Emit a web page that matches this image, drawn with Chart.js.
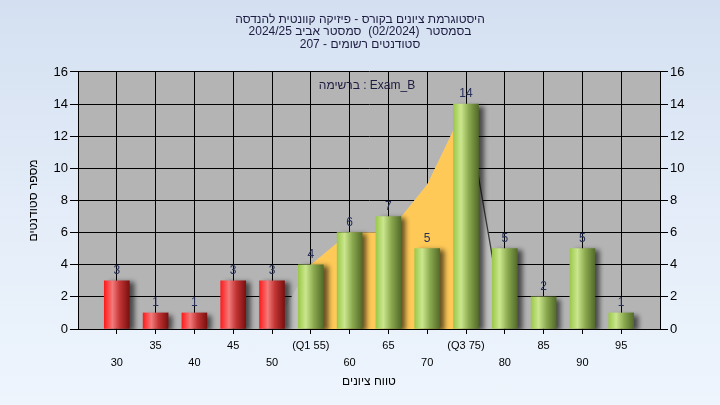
<!DOCTYPE html>
<html><head><meta charset="utf-8">
<script src="https://cdn.jsdelivr.net/npm/chart.js@4.4.1/dist/chart.umd.min.js"></script>
<style>
html,body{margin:0;padding:0;width:720px;height:405px;overflow:hidden;}
body{background:linear-gradient(180deg,#d4e0f1 0%,#e3ecf8 50%,#eef5fd 100%);}
canvas{display:block;}
</style></head><body>
<canvas id="c" width="720" height="405"></canvas>
<script>
// ---- data ----
const scores = [30,35,40,45,50,55,60,65,70,75,80,85,90,95];
const counts = [3,1,1,3,3,4,6,7,5,14,5,2,5,1];
const tickLabels = ['30','35','40','45','50','(Q1 55)','60','65','70','(Q3 75)','80','85','90','95'];
const passScore = 55;
const curveScores = [50,55,60,65,70,75,80];
const curveValues = [0,4,6,6,9,14,0];
const iqrScores = [55,60,65,70,75];
const iqrValues = [4,6,6,9,14];
const titleLines = [
  'היסטוגרמת ציונים בקורס - פיזיקה קוונטית להנדסה',
  'בסמסטר  (02/2024)  סמסטר אביב 2024/25',
  'סטודנטים רשומים - 207'
];
const legendText = 'ברשימה : Exam_B';
const xTitle = 'טווח ציונים';
const yTitle = 'מספר סטודנטים';

const FONT = "'Liberation Sans', Arial, 'DejaVu Sans', sans-serif";

function barFill(c) {
  const chart = c.chart;
  if (c.type !== 'data' || !chart.chartArea) return '#999';
  const s = scores[c.dataIndex];
  const px = chart.scales.x.getPixelForValue(s);
  const g = chart.ctx.createLinearGradient(px - 12.5, 0, px + 12.5, 0);
  if (s < passScore) {
    g.addColorStop(0, '#ff1c1c');
    g.addColorStop(0.33, '#f27a7a');
    g.addColorStop(0.62, '#c23434');
    g.addColorStop(1, '#7c1010');
  } else {
    g.addColorStop(0, '#9cc84c');
    g.addColorStop(0.3, '#cbe78e');
    g.addColorStop(0.62, '#8aa84e');
    g.addColorStop(1, '#536c2a');
  }
  return g;
}

const plotBg = {
  id: 'plotBg',
  beforeDraw(chart) {
    const a = chart.chartArea, ctx = chart.ctx;
    ctx.save(); ctx.fillStyle = '#b4b4b4';
    ctx.fillRect(a.left, a.top, a.right - a.left, a.bottom - a.top);
    ctx.restore();
  }
};
const shadow = {
  id: 'shadow',
  beforeDatasetDraw(chart, args) {
    if (args.index !== 0) return;
    const ctx = chart.ctx; ctx.save();
    ctx.shadowColor = 'rgba(0,0,0,0.6)'; ctx.shadowBlur = 5;
    ctx.shadowOffsetX = 5; ctx.shadowOffsetY = 2;
  },
  afterDatasetDraw(chart, args) { if (args.index === 0) chart.ctx.restore(); }
};
const texts = {
  id: 'texts',
  afterDatasetsDraw(chart) {
    const ctx = chart.ctx, meta = chart.getDatasetMeta(0), a = chart.chartArea;
    ctx.save();
    ctx.font = '12px ' + FONT; ctx.fillStyle = '#26305a';
    ctx.textAlign = 'center'; ctx.textBaseline = 'middle';
    meta.data.forEach((el, i) => ctx.fillText(String(counts[i]), el.x, el.y - 10));
    ctx.fillStyle = '#1c1c40';
    ctx.fillText(legendText, (a.left + a.right) / 2 - 2, a.top + 14);
    ctx.restore();
  }
};

new Chart(document.getElementById('c'), {
  data: {
    datasets: [
      { type: 'bar', label: 'counts', data: scores.map((s, i) => ({x: s, y: counts[i]})),
        backgroundColor: barFill, borderWidth: 0, barThickness: 25, order: 0 },
      { type: 'line', label: 'iqr', data: iqrScores.map((s, i) => ({x: s, y: iqrValues[i]})),
        fill: 'origin', backgroundColor: '#ffc957', borderWidth: 0, pointRadius: 0, tension: 0, order: 1 },
      { type: 'line', label: 'curve', data: curveScores.map((s, i) => ({x: s, y: curveValues[i]})),
        fill: 'origin', backgroundColor: '#c0c0c0', borderWidth: 1.3, borderColor: 'rgba(0,0,0,0)',
        segment: { borderColor: c => c.p0.parsed.x === 75 ? '#3a3a3a' : 'rgba(0,0,0,0)' },
        pointRadius: 0, tension: 0, order: 2 }
    ]
  },
  options: {
    responsive: false, animation: false,
    layout: { padding: 0 },
    plugins: {
      legend: { display: false }, tooltip: { enabled: false },
      title: { display: true, text: titleLines, color: '#1c1c40',
        font: { size: 12, family: FONT, weight: 'normal', lineHeight: 1.04 },
        padding: { top: 13, bottom: 21.5 } }
    },
    scales: {
      x: { type: 'linear', min: 25, max: 100, position: 'bottom', offset: false,
        afterBuildTicks: s => { s.ticks = scores.map(v => ({ value: v })); },
        afterFit: s => { s.height = 76; },
        ticks: { autoSkip: false, maxRotation: 0, minRotation: 0, color: '#000', padding: 3.5,
          font: { size: 11, family: FONT, lineHeight: 17 / 11 },
          callback: v => { const i = scores.indexOf(v); const t = tickLabels[i]; return i % 2 === 0 ? ['', t] : [t]; } },
        grid: { color: '#000', lineWidth: 1, tickLength: 5, offset: false },
        border: { color: '#000', width: 1 },
        title: { display: true, text: xTitle, color: '#000',
          font: { size: 12, family: FONT, lineHeight: 1.2 }, padding: { top: 0, bottom: 16 } } },
      y: { position: 'left', min: 0, max: 16,
        afterFit: s => { s.width = 78; },
        ticks: { stepSize: 2, color: '#000', padding: 2, font: { size: 13, family: FONT } },
        grid: { color: '#000', lineWidth: 1, tickLength: 8 },
        border: { color: '#000', width: 1 },
        title: { display: true, text: yTitle, color: '#000',
          font: { size: 12, family: FONT, lineHeight: 1.2 }, padding: { top: 26, bottom: 0 } } },
      y2: { position: 'right', min: 0, max: 16,
        afterFit: s => { s.width = 60; },
        ticks: { stepSize: 2, color: '#000', padding: 2, font: { size: 13, family: FONT } },
        grid: { drawOnChartArea: false, color: '#000', lineWidth: 1, tickLength: 8 },
        border: { color: '#000', width: 1 } }
    }
  },
  plugins: [plotBg, shadow, texts]
});
</script>
</body></html>
